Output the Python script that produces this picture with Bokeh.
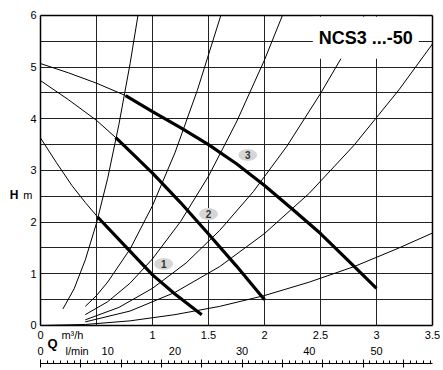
from bokeh.plotting import figure
from bokeh.models import (Range1d, LinearAxis, FixedTicker, SingleIntervalTicker, Label)
from bokeh.embed import file_html
from bokeh.resources import INLINE

# ---- data ----
# pump curves (speed 1..3): thin (outside operating range) and thick parts
q_s1_thin = [0.0, 0.14, 0.28, 0.40, 0.51]
h_s1_thin = [3.63, 3.16, 2.71, 2.38, 2.10]
q_s1 = [0.51, 0.75, 1.0, 1.2, 1.44]
h_s1 = [2.10, 1.55, 0.98, 0.61, 0.21]

q_s2_thin = [0.0, 0.25, 0.5, 0.67]
h_s2_thin = [4.74, 4.37, 3.97, 3.64]
q_s2 = [0.67, 0.8, 1.0, 1.1, 1.25, 1.5, 1.75, 2.0]
h_s2 = [3.64, 3.37, 2.95, 2.72, 2.38, 1.77, 1.15, 0.50]

q_s3_thin = [0.0, 0.25, 0.5, 0.76]
h_s3_thin = [5.07, 4.89, 4.69, 4.45]
q_s3 = [0.76, 1.0, 1.25, 1.5, 1.75, 2.0, 2.25, 2.5, 2.75, 3.0]
h_s3 = [4.45, 4.14, 3.83, 3.50, 3.13, 2.71, 2.25, 1.78, 1.25, 0.72]

# system curves
q_sys_a = [0.2, 0.3, 0.4, 0.5, 0.6, 0.7, 0.8, 0.87]
h_sys_a = [0.32, 0.71, 1.27, 1.98, 2.85, 3.89, 5.07, 6.0]
q_sys_b = [0.4, 0.5, 0.6, 0.8, 1.0, 1.2, 1.4, 1.61]
h_sys_b = [0.37, 0.58, 0.84, 1.48, 2.32, 3.34, 4.55, 6.0]
q_sys_c = [0.4, 0.6, 0.8, 1.0, 1.25, 1.5, 1.75, 2.0, 2.16]
h_sys_c = [0.21, 0.46, 0.82, 1.29, 2.01, 2.89, 3.94, 5.14, 6.0]
q_sys_d = [0.4, 0.7, 1.0, 1.3, 1.6, 1.9, 2.2, 2.5, 2.7, 2.89]
h_sys_d = [0.11, 0.35, 0.72, 1.21, 1.84, 2.59, 3.47, 4.49, 5.23, 6.0]
q_sys_e = [0.4, 0.8, 1.2, 1.6, 2.0, 2.4, 2.8, 3.2, 3.5]
h_sys_e = [0.07, 0.28, 0.64, 1.14, 1.78, 2.56, 3.49, 4.56, 5.45]
q_sys_f = [0.0, 0.4, 0.8, 1.2, 1.6, 2.0, 2.4, 2.8, 3.2, 3.5]
h_sys_f = [0.0, 0.02, 0.09, 0.21, 0.37, 0.58, 0.84, 1.14, 1.50, 1.79]

speed_labels = ["1", "2", "3"]
speed_label_q = [1.10, 1.50, 1.85]
speed_label_h = [1.19, 2.16, 3.30]

x_ticks = [0, 1, 1.5, 2, 2.5, 3, 3.5]
y_ticks = [0, 1, 2, 3, 4, 5, 6]
grid_x = [0.5, 1, 1.5, 2, 2.5, 3]
grid_y = [0.5, 1, 1.5, 2, 2.5, 3, 3.5, 4, 4.5, 5, 5.5]
lmin_ticks = [0, 10, 20, 30, 40, 50]
title = "NCS3 ...-50"
q_unit, lmin_unit, h_symbol, h_unit, q_symbol = "m³/h", "l/min", "H", "m", "Q"
q_unit_pos, lmin_unit_pos, h_symbol_pos = 0.285, 5.45, 2.52
q_symbol_x, q_symbol_y = 0.108, -0.35
lmin_label_row, lmin_scale_row = -0.385, -0.727

FONT = "Liberation Sans"
Q_MAX, H_MAX = 3.5, 6
LMIN_PER_M3H = 1000 / 60

# the frame fills the whole canvas; the chart box (0..3.5 x 0..6) is drawn by axes
X0, X1 = -0.35714, 3.59821
Y0, Y1 = -0.87097, 6.29032

p = figure(width=443, height=370, output_backend="svg", toolbar_location=None,
           x_range=Range1d(X0, X1), y_range=Range1d(Y0, Y1),
           min_border=0)
p.frame_width = 443
p.frame_height = 370
p.background_fill_color = "white"
p.border_fill_color = "white"
p.outline_line_color = None
p.xgrid.visible = False
p.ygrid.visible = False


def plain(ax, size="11px", style="normal", standoff=0):
    ax.axis_line_color = None
    ax.major_tick_line_color = None
    ax.minor_tick_line_color = None
    ax.major_tick_out = 0
    ax.major_tick_in = 0
    ax.minor_tick_out = 0
    ax.minor_tick_in = 0
    ax.major_label_text_font = FONT
    ax.major_label_text_font_size = size
    ax.major_label_text_font_style = style
    ax.major_label_text_color = "black"
    ax.major_label_standoff = standoff


def hidden_labels(ax):
    ax.major_label_text_color = None


# grid lines drawn as long ticks, behind the curves
gx = LinearAxis(ticker=FixedTicker(ticks=grid_x), fixed_location=0, level="underlay")
plain(gx)
hidden_labels(gx)
gx.major_tick_line_color = "#222222"
gx.major_tick_in = 310
p.add_layout(gx, "below")
gy = LinearAxis(ticker=FixedTicker(ticks=grid_y), fixed_location=0, level="underlay")
plain(gy)
hidden_labels(gy)
gy.major_tick_line_color = "#222222"
gy.major_tick_in = 392
p.add_layout(gy, "left")

# main x axis (m3/h) with unit caption, at H = 0
xa = p.xaxis[0]
xa.ticker = FixedTicker(ticks=x_ticks + [q_unit_pos])
xa.major_label_overrides = {q_unit_pos: q_unit}
plain(xa, standoff=4)
xa.fixed_location = 0
xa.bounds = (0, Q_MAX)
xa.axis_line_color = "black"
xa.axis_line_width = 1.5

# main y axis at Q = 0
ya = p.yaxis[0]
ya.ticker = FixedTicker(ticks=y_ticks)
plain(ya, standoff=4)
ya.fixed_location = 0
ya.bounds = (0, H_MAX)
ya.axis_line_color = "black"
ya.axis_line_width = 1.5

# H m caption
ax_m = LinearAxis(ticker=FixedTicker(ticks=[h_symbol_pos]), fixed_location=0)
ax_m.major_label_overrides = {h_symbol_pos: h_unit}
plain(ax_m, standoff=8)
p.add_layout(ax_m, "left")
ax_h = LinearAxis(ticker=FixedTicker(ticks=[h_symbol_pos]), fixed_location=0)
ax_h.major_label_overrides = {h_symbol_pos: h_symbol}
plain(ax_h, size="12px", style="bold", standoff=22)
p.add_layout(ax_h, "left")

# top and right edges of the chart box
ax_top = LinearAxis(ticker=FixedTicker(ticks=[]), fixed_location=H_MAX, bounds=(0, Q_MAX))
plain(ax_top)
hidden_labels(ax_top)
ax_top.axis_line_color = "black"
ax_top.axis_line_width = 1.5
p.add_layout(ax_top, "above")
ax_right = LinearAxis(ticker=FixedTicker(ticks=[]), fixed_location=Q_MAX, bounds=(0, H_MAX))
plain(ax_right)
hidden_labels(ax_right)
ax_right.axis_line_color = "black"
ax_right.axis_line_width = 1.5
p.add_layout(ax_right, "right")

# l/min scale
p.extra_x_ranges = {"lmin": Range1d(X0 * LMIN_PER_M3H, X1 * LMIN_PER_M3H)}
ax_lab = LinearAxis(x_range_name="lmin", ticker=FixedTicker(ticks=lmin_ticks + [lmin_unit_pos]),
                    fixed_location=lmin_label_row)
ax_lab.major_label_overrides = {lmin_unit_pos: lmin_unit}
plain(ax_lab, standoff=0)
p.add_layout(ax_lab, "below")

ax_tk = LinearAxis(x_range_name="lmin", ticker=SingleIntervalTicker(interval=6, num_minor_ticks=6),
                   fixed_location=lmin_scale_row, bounds=(0, Q_MAX * LMIN_PER_M3H))
plain(ax_tk)
hidden_labels(ax_tk)
ax_tk.axis_line_color = "black"
ax_tk.axis_line_width = 1
ax_tk.major_tick_line_color = "black"
ax_tk.minor_tick_line_color = "black"
ax_tk.major_tick_in = 4
ax_tk.major_tick_out = 4
ax_tk.minor_tick_in = 3
ax_tk.minor_tick_out = 0
p.add_layout(ax_tk, "below")

# system curves
for q, h in [(q_sys_a, h_sys_a), (q_sys_b, h_sys_b), (q_sys_c, h_sys_c),
             (q_sys_d, h_sys_d), (q_sys_e, h_sys_e), (q_sys_f, h_sys_f)]:
    p.line(q, h, line_color="black", line_width=1)

# pump curves
for q, h in [(q_s1_thin, h_s1_thin), (q_s2_thin, h_s2_thin), (q_s3_thin, h_s3_thin)]:
    p.line(q, h, line_color="black", line_width=1)
for q, h in [(q_s1, h_s1), (q_s2, h_s2), (q_s3, h_s3)]:
    p.line(q, h, line_color="black", line_width=3.2)

# speed markers
p.ellipse(x=speed_label_q, y=speed_label_h, width=19, height=12,
          width_units="screen", height_units="screen",
          fill_color="#d6d6d6", line_color=None)
for t, q, h in zip(speed_labels, speed_label_q, speed_label_h):
    p.add_layout(Label(x=q, y=h, text=t, text_align="center", text_baseline="middle",
                       text_font=FONT, text_font_size="10px", text_font_style="bold",
                       text_color="#333333"))

# title box
p.add_layout(Label(x=2.905, y=5.57, text=title, text_align="center", text_baseline="middle",
                   text_font=FONT, text_font_size="18px", text_font_style="bold",
                   text_color="black", background_fill_color="white",
                   padding=(6, 11)))

# "Q" symbol
p.add_layout(Label(x=q_symbol_x, y=q_symbol_y, text=q_symbol, text_align="center",
                   text_baseline="middle", text_font=FONT, text_font_size="13px",
                   text_font_style="bold", text_color="black"))

open("out.html", "w").write(file_html(p, INLINE))
